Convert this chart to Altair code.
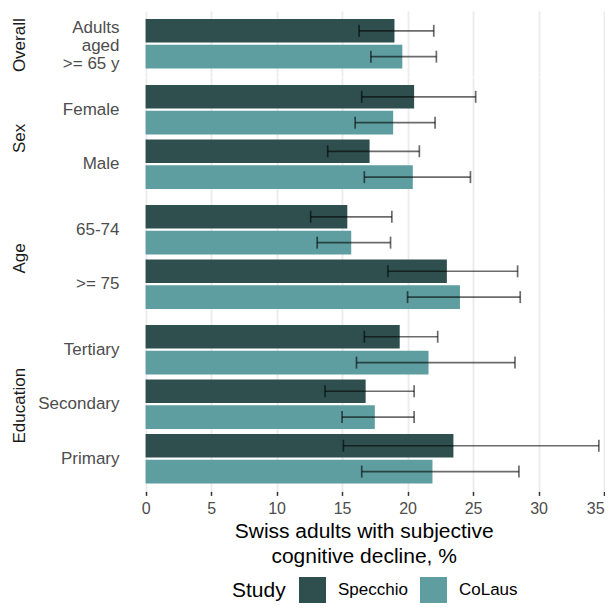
import altair as alt
import pandas as pd

groups = ["Overall", "Sex", "Sex", "Age", "Age", "Education", "Education", "Education"]
categories = ["Adults aged >= 65 y", "Female", "Male", "65-74", ">= 75",
              "Tertiary", "Secondary", "Primary"]
specchio_pct = [19.0, 20.5, 17.1, 15.4, 23.0, 19.4, 16.8, 23.5]
specchio_lo = [16.3, 16.5, 13.9, 12.6, 18.5, 16.7, 13.7, 15.1]
specchio_hi = [22.0, 25.2, 20.9, 18.8, 28.4, 22.3, 20.5, 34.6]
colaus_pct = [19.6, 18.9, 20.4, 15.7, 24.0, 21.6, 17.5, 21.9]
colaus_lo = [17.2, 16.0, 16.7, 13.1, 20.0, 16.1, 15.0, 16.5]
colaus_hi = [22.2, 22.1, 24.8, 18.7, 28.6, 28.2, 20.5, 28.5]
studies = ["Specchio", "CoLaus"]
study_colors = ["#2F4F4F", "#5F9EA0"]
group_order = ["Overall", "Sex", "Age", "Education"]
x_ticks = [0, 5, 10, 15, 20, 25, 30, 35]

rows = []
for i, (g, c) in enumerate(zip(groups, categories)):
    rows.append(dict(group=g, category=c, study="Specchio",
                     pct=specchio_pct[i], lo=specchio_lo[i], hi=specchio_hi[i]))
    rows.append(dict(group=g, category=c, study="CoLaus",
                     pct=colaus_pct[i], lo=colaus_lo[i], hi=colaus_hi[i]))
df = pd.DataFrame(rows)

STEP = 54.5
P_IN = 0.094
P_OUT = 0.147
PX_PER_UNIT = 13.1
X_MIN, X_MAX = -1.8, 35.1
FONT = "Liberation Sans"
x_scale = alt.Scale(domain=[X_MIN, X_MAX], nice=False, zero=False)
PLOT_W = (X_MAX - X_MIN) * PX_PER_UNIT

legend = alt.Legend(
    title="Study", orient="none", legendX=110, legendY=566,
    direction="horizontal", titleOrient="left", symbolType="square",
    symbolSize=729, symbolStrokeWidth=0, labelFontSize=17, titleFontSize=21,
    titleFontWeight="normal", labelOffset=12, columnPadding=12, titlePadding=13,
    labelColor="#000000", titleColor="#000000", symbolOpacity=1,
)

label_expr = ("datum.value == 'Adults aged >= 65 y' ? "
              "['Adults', 'aged', '>= 65 y'] : datum.value")


def panel(g, last):
    d = df[df.group == g]
    order = [c for c in categories if c in set(d.category)]
    n = len(order)
    h = STEP * (n - P_IN + 2 * P_OUT)
    multi = g == "Overall"
    y = alt.Y("category:N", sort=order,
              scale=alt.Scale(paddingInner=P_IN, paddingOuter=P_OUT),
              axis=alt.Axis(title=g, titleX=-102.5, titleY=h / 2 + 1, titleAngle=270,
                            titleAlign="center", titleBaseline="middle",
                            titleFontSize=17, titleFontWeight="normal",
                            titleColor="#1a1a1a", labelExpr=label_expr,
                            labelFontSize=17, labelColor="#4d4d4d",
                            labelLineHeight=18.3, labelPadding=3,
                            labelOffset=-16 if multi else 0,
                            ticks=False, domain=False, grid=False))
    yo = alt.YOffset("study:N", sort=studies, scale=alt.Scale(paddingInner=0.09))
    if last:
        xaxis = alt.Axis(values=x_ticks, grid=True, gridColor="#ebebeb", gridWidth=1.8,
                         domain=False, ticks=True, tickColor="#333333", tickSize=4,
                         tickWidth=1.5, labelFontSize=16, labelColor="#4d4d4d",
                         labelPadding=5, labelFlush=5,
                         title=["Swiss adults with subjective", "cognitive decline, %"],
                         titleFontSize=21, titleFontWeight="normal",
                         titleColor="#000000", titleLineHeight=25, titlePadding=4)
    else:
        xaxis = alt.Axis(values=x_ticks, grid=True, gridColor="#ebebeb", gridWidth=1.8,
                         domain=False, ticks=False, labels=False, title=None)
    base = alt.Chart(d)
    bars = base.mark_bar(opacity=1).encode(
        x=alt.X("pct:Q", scale=x_scale, axis=xaxis),
        y=y, yOffset=yo,
        color=alt.Color("study:N", sort=studies,
                        scale=alt.Scale(domain=studies, range=study_colors),
                        legend=legend),
    )
    rule = base.mark_rule(color="#000000", opacity=0.58, strokeWidth=1.7).encode(
        x="lo:Q", x2="hi:Q", y=y, yOffset=yo)
    cap_lo = base.mark_tick(color="#000000", opacity=0.58, thickness=1.7, size=12).encode(
        x="lo:Q", y=y, yOffset=yo)
    cap_hi = base.mark_tick(color="#000000", opacity=0.58, thickness=1.7, size=12).encode(
        x="hi:Q", y=y, yOffset=yo)
    return alt.layer(bars, rule, cap_lo, cap_hi).properties(width=PLOT_W, height=h)


panels = [panel(g, i == len(group_order) - 1) for i, g in enumerate(group_order)]
chart = alt.vconcat(*panels, spacing=0, bounds="flush").resolve_scale(
    y="independent", color="shared"
).properties(
    padding={"left": 2.0, "top": 3, "right": 0, "bottom": -1}
).configure(font=FONT).configure_view(stroke=None)

chart.save("out.html", embed_options={"renderer": "svg", "actions": False})
